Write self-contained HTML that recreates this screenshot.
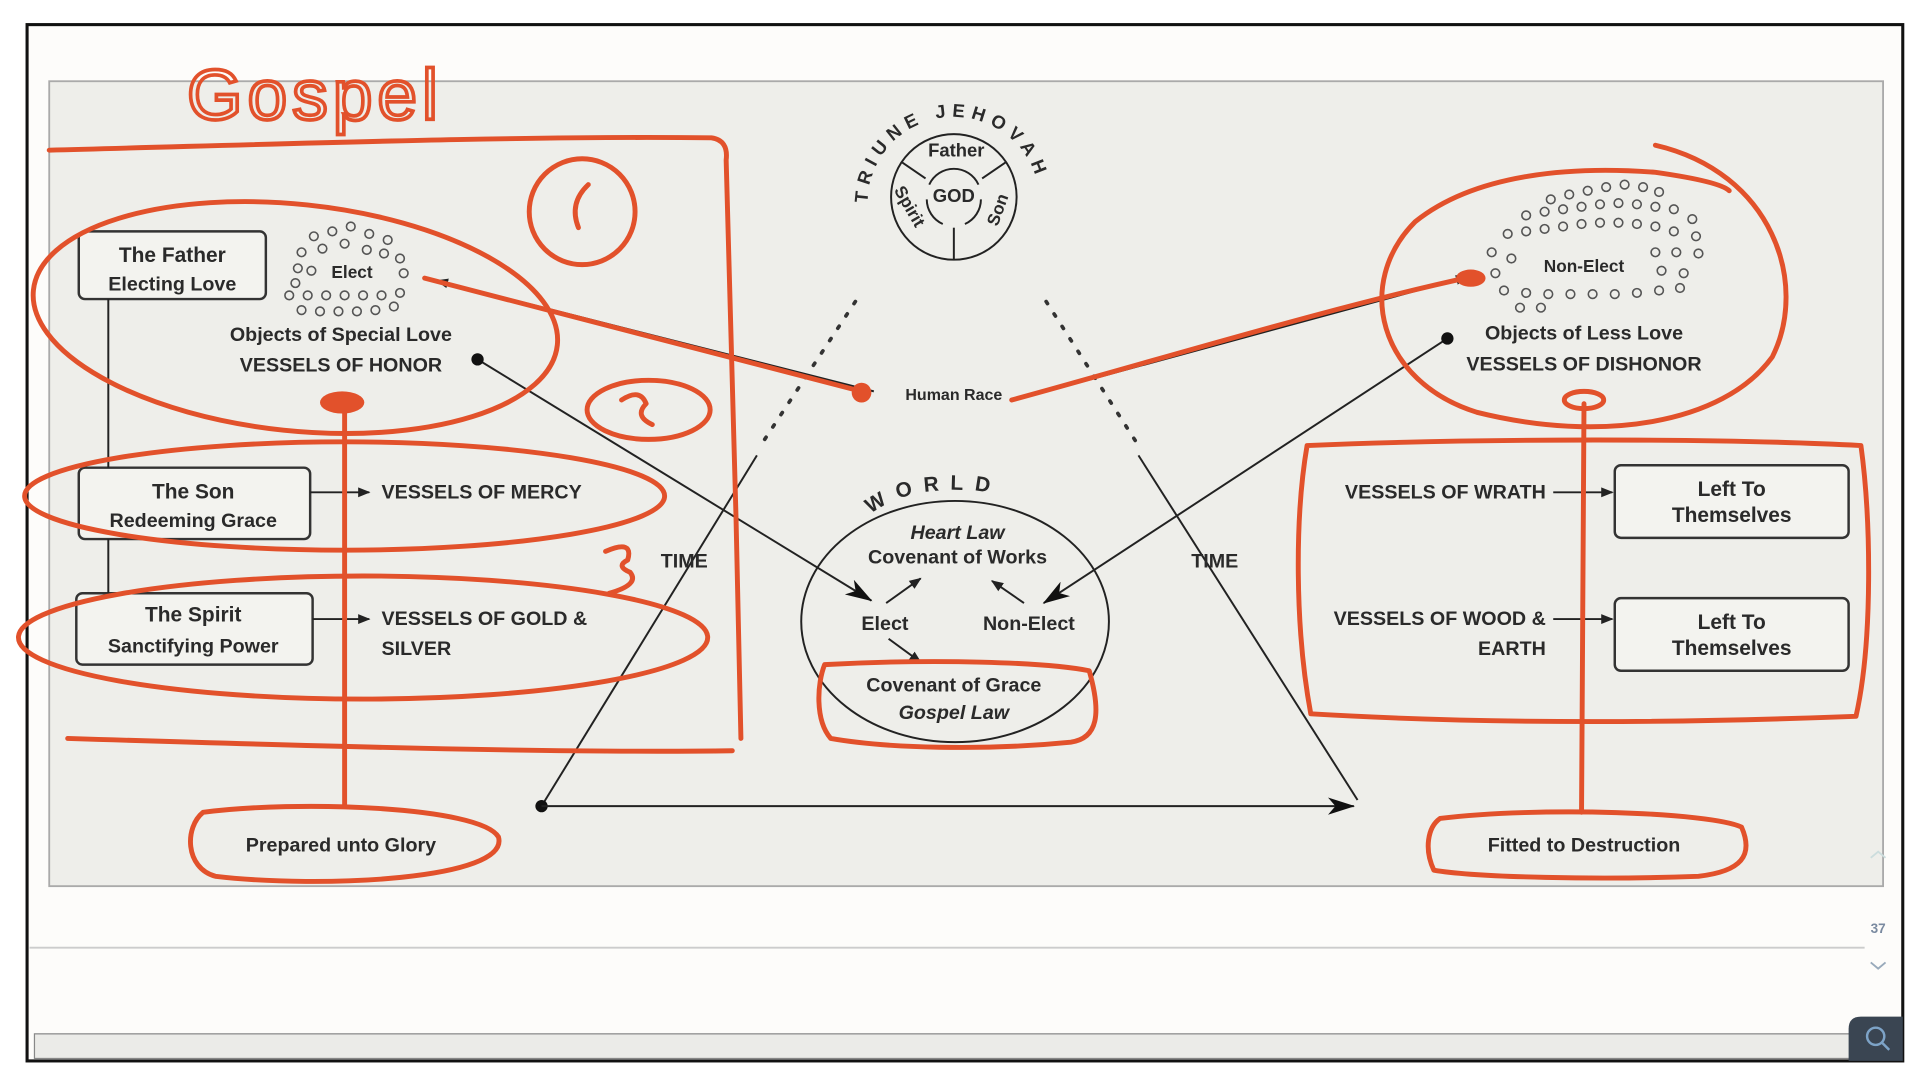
<!DOCTYPE html>
<html><head><meta charset="utf-8"><style>
html,body{margin:0;padding:0;background:#fff;width:1920px;height:1080px;overflow:hidden}
svg{display:block}
text{font-family:"Liberation Sans",sans-serif;fill:#2a2a2a}
.b{font-weight:bold;font-size:16px}
.r{fill:none;stroke:#e2512b;stroke-width:4;stroke-linecap:round;stroke-linejoin:round}
.k{fill:none;stroke:#222;stroke-width:1.6}
.bx{fill:#f3f3ef;stroke:#333;stroke-width:2}
.d{fill:none;stroke:#555;stroke-width:1.3}
</style></head><body>
<svg width="1920" height="1080" viewBox="0 0 1560 877.5" preserveAspectRatio="none">
<defs>
<marker id="a" markerWidth="10" markerHeight="10" refX="9" refY="5" orient="auto" markerUnits="userSpaceOnUse"><path d="M0,1 L10,5 L0,9 Z" fill="#222"/></marker>
<marker id="A" markerWidth="22" markerHeight="14" refX="21" refY="7" orient="auto" markerUnits="userSpaceOnUse"><path d="M0,0 L22,7 L0,14 L6,7 Z" fill="#111"/></marker>
<path id="arc1" d="M705,165 A70,70 0 0 1 845,165"/>
<path id="arc2" d="M705,428 A72,30 0 0 1 849,428"/>
</defs>
<rect x="0" y="0" width="1560" height="877.5" fill="#fff"/>
<rect x="22" y="20" width="1524" height="842" fill="#fdfcfa" stroke="#111" stroke-width="2.5"/>
<rect x="40" y="66" width="1490" height="654" fill="#eeeeea" stroke="#aaa" stroke-width="1.5"/>
<line x1="24" y1="770" x2="1515" y2="770" stroke="#ccc" stroke-width="1.5"/>
<rect x="28" y="840" width="1516" height="20" fill="#ebebe8" stroke="#888" stroke-width="1"/>
<path d="M1502,862 L1502,836 Q1502,826 1512,826 L1546,826 L1546,862 Z" fill="#3a4552"/>
<circle cx="1524" cy="842" r="7" fill="none" stroke="#7da3c7" stroke-width="2"/>
<line x1="1529" y1="847" x2="1535" y2="853" stroke="#7da3c7" stroke-width="2"/>
<text x="1526" y="758" text-anchor="middle" style="font-size:11px;fill:#7a8aa0;font-weight:bold">37</text>
<path d="M1520,782 L1526,787 L1532,782" fill="none" stroke="#9ab" stroke-width="1.5"/>
<path d="M1520,697 L1526,692 L1532,697" fill="none" stroke="#cdd" stroke-width="1.5"/>

<!-- God circle -->
<circle cx="775" cy="160" r="51" class="k" stroke-width="2"/>
<path d="M755,150 A22,22 0 0 1 795,150 M753,162 A22,22 0 0 0 766,182 M797,162 A22,22 0 0 1 784,182" class="k"/>
<line x1="733" y1="132" x2="752" y2="145" class="k" stroke-width="2"/>
<line x1="817" y1="132" x2="798" y2="145" class="k" stroke-width="2"/>
<line x1="775" y1="185" x2="775" y2="211" class="k" stroke-width="2"/>
<text x="777" y="127" text-anchor="middle" class="b" style="font-size:15px">Father</text>
<text x="775" y="164" text-anchor="middle" class="b" style="font-size:15px">GOD</text>
<text transform="translate(735,170) rotate(60)" text-anchor="middle" class="b" style="font-size:14px">Spirit</text>
<text transform="translate(815,172) rotate(-70)" text-anchor="middle" class="b" style="font-size:14px">Son</text>
<text class="b" style="font-size:15px;letter-spacing:5px"><textPath href="#arc1" startOffset="0%">TRIUNE JEHOVAH</textPath></text>

<!-- dotted & time lines -->
<line x1="695" y1="245" x2="618" y2="362" stroke="#333" stroke-width="3" stroke-dasharray="2,10" stroke-linecap="round"/>
<line x1="850" y1="245" x2="925" y2="362" stroke="#333" stroke-width="3" stroke-dasharray="2,10" stroke-linecap="round"/>
<line x1="615" y1="370" x2="440" y2="655" class="k"/>
<line x1="925" y1="370" x2="1103" y2="650" class="k"/>
<circle cx="440" cy="655" r="5" fill="#111"/>
<line x1="440" y1="655" x2="1100" y2="655" class="k" marker-end="url(#A)"/>
<text x="556" y="461" text-anchor="middle" class="b">TIME</text>
<text x="987" y="461" text-anchor="middle" class="b">TIME</text>

<!-- Human race -->
<text x="775" y="325" text-anchor="middle" class="b" style="font-size:13px">Human Race</text>
<line x1="710" y1="318" x2="355" y2="228" class="k" marker-end="url(#a)"/>
<line x1="850" y1="318" x2="1192" y2="225" class="k" marker-end="url(#a)"/>

<!-- World -->
<ellipse cx="776" cy="505" rx="125" ry="98" class="k" stroke-width="2"/>
<text class="b" style="font-size:17px;letter-spacing:9px"><textPath href="#arc2" startOffset="6%">WORLD</textPath></text>
<text x="778" y="438" text-anchor="middle" style="font-size:16px;font-style:italic;font-weight:bold">Heart Law</text>
<text x="778" y="458" text-anchor="middle" class="b">Covenant of Works</text>
<text x="719" y="512" text-anchor="middle" class="b">Elect</text>
<text x="836" y="512" text-anchor="middle" class="b">Non-Elect</text>
<line x1="720" y1="490" x2="748" y2="470" class="k" stroke-width="2" marker-end="url(#a)"/>
<line x1="832" y1="490" x2="806" y2="472" class="k" stroke-width="2" marker-end="url(#a)"/>
<line x1="722" y1="519" x2="748" y2="538" class="k" stroke-width="2" marker-end="url(#a)"/>
<text x="775" y="562" text-anchor="middle" class="b">Covenant of Grace</text>
<text x="775" y="584" text-anchor="middle" style="font-size:16px;font-style:italic;font-weight:bold">Gospel Law</text>
<line x1="388" y1="292" x2="708" y2="488" class="k" marker-end="url(#A)"/>
<line x1="1176" y1="275" x2="848" y2="490" class="k" marker-end="url(#A)"/>
<circle cx="388" cy="292" r="5" fill="#111"/>
<circle cx="1176" cy="275" r="5" fill="#111"/>

<!-- Left boxes -->
<rect x="64" y="188" width="152" height="55" rx="5" class="bx"/>
<text x="140" y="213" text-anchor="middle" class="b" style="font-size:17px">The Father</text>
<text x="140" y="236" text-anchor="middle" class="b">Electing Love</text>
<rect x="64" y="380" width="188" height="58" rx="5" class="bx"/>
<text x="157" y="405" text-anchor="middle" class="b" style="font-size:17px">The Son</text>
<text x="157" y="428" text-anchor="middle" class="b">Redeeming Grace</text>
<rect x="62" y="482" width="192" height="58" rx="5" class="bx"/>
<text x="157" y="505" text-anchor="middle" class="b" style="font-size:17px">The Spirit</text>
<text x="157" y="530" text-anchor="middle" class="b">Sanctifying Power</text>
<line x1="88" y1="243" x2="88" y2="380" class="k" stroke-width="2"/>
<line x1="88" y1="438" x2="88" y2="482" class="k" stroke-width="2"/>
<line x1="252" y1="400" x2="300" y2="400" class="k" marker-end="url(#a)"/>
<line x1="254" y1="503" x2="300" y2="503" class="k" marker-end="url(#a)"/>
<text x="310" y="405" class="b">VESSELS OF MERCY</text>
<text x="310" y="508" class="b">VESSELS OF GOLD &amp;</text>
<text x="310" y="532" class="b">SILVER</text>
<g class="d">
<circle cx="255" cy="192" r="3.5"/><circle cx="270" cy="188" r="3.5"/><circle cx="285" cy="184" r="3.5"/><circle cx="300" cy="190" r="3.5"/><circle cx="315" cy="195" r="3.5"/>
<circle cx="245" cy="205" r="3.5"/><circle cx="262" cy="202" r="3.5"/><circle cx="280" cy="198" r="3.5"/><circle cx="298" cy="203" r="3.5"/><circle cx="325" cy="210" r="3.5"/><circle cx="312" cy="206" r="3.5"/>
<circle cx="242" cy="218" r="3.5"/><circle cx="253" cy="220" r="3.5"/><circle cx="240" cy="230" r="3.5"/><circle cx="328" cy="222" r="3.5"/>
<circle cx="235" cy="240" r="3.5"/><circle cx="250" cy="240" r="3.5"/><circle cx="265" cy="240" r="3.5"/><circle cx="280" cy="240" r="3.5"/><circle cx="295" cy="240" r="3.5"/><circle cx="310" cy="240" r="3.5"/><circle cx="325" cy="238" r="3.5"/>
<circle cx="245" cy="252" r="3.5"/><circle cx="260" cy="253" r="3.5"/><circle cx="275" cy="253" r="3.5"/><circle cx="290" cy="253" r="3.5"/><circle cx="305" cy="252" r="3.5"/><circle cx="320" cy="249" r="3.5"/>
</g>
<text x="286" y="226" text-anchor="middle" class="b" style="font-size:14px">Elect</text>
<text x="277" y="277" text-anchor="middle" class="b">Objects of Special Love</text>
<text x="277" y="302" text-anchor="middle" class="b">VESSELS OF HONOR</text>
<text x="277" y="692" text-anchor="middle" class="b">Prepared unto Glory</text>

<!-- Right -->
<g class="d">
<circle cx="1260" cy="162" r="3.5"/><circle cx="1275" cy="158" r="3.5"/><circle cx="1290" cy="155" r="3.5"/><circle cx="1305" cy="152" r="3.5"/><circle cx="1320" cy="150" r="3.5"/><circle cx="1335" cy="152" r="3.5"/><circle cx="1348" cy="156" r="3.5"/>
<circle cx="1240" cy="175" r="3.5"/><circle cx="1255" cy="172" r="3.5"/><circle cx="1270" cy="170" r="3.5"/><circle cx="1285" cy="168" r="3.5"/><circle cx="1300" cy="166" r="3.5"/><circle cx="1315" cy="165" r="3.5"/><circle cx="1330" cy="166" r="3.5"/><circle cx="1345" cy="168" r="3.5"/><circle cx="1360" cy="170" r="3.5"/><circle cx="1375" cy="178" r="3.5"/>
<circle cx="1225" cy="190" r="3.5"/><circle cx="1240" cy="188" r="3.5"/><circle cx="1255" cy="186" r="3.5"/><circle cx="1270" cy="184" r="3.5"/><circle cx="1285" cy="182" r="3.5"/><circle cx="1300" cy="181" r="3.5"/><circle cx="1315" cy="181" r="3.5"/><circle cx="1330" cy="182" r="3.5"/><circle cx="1345" cy="184" r="3.5"/><circle cx="1360" cy="188" r="3.5"/><circle cx="1378" cy="192" r="3.5"/>
<circle cx="1212" cy="205" r="3.5"/><circle cx="1228" cy="210" r="3.5"/><circle cx="1345" cy="205" r="3.5"/><circle cx="1362" cy="205" r="3.5"/><circle cx="1380" cy="206" r="3.5"/>
<circle cx="1215" cy="222" r="3.5"/><circle cx="1350" cy="220" r="3.5"/><circle cx="1368" cy="222" r="3.5"/>
<circle cx="1222" cy="236" r="3.5"/><circle cx="1240" cy="238" r="3.5"/><circle cx="1258" cy="239" r="3.5"/><circle cx="1276" cy="239" r="3.5"/><circle cx="1294" cy="239" r="3.5"/><circle cx="1312" cy="239" r="3.5"/><circle cx="1330" cy="238" r="3.5"/><circle cx="1348" cy="236" r="3.5"/><circle cx="1365" cy="234" r="3.5"/>
<circle cx="1235" cy="250" r="3.5"/><circle cx="1252" cy="250" r="3.5"/>
</g>
<text x="1287" y="221" text-anchor="middle" class="b" style="font-size:14px">Non-Elect</text>
<text x="1287" y="276" text-anchor="middle" class="b">Objects of Less Love</text>
<text x="1287" y="301" text-anchor="middle" class="b">VESSELS OF DISHONOR</text>
<text x="1256" y="405" text-anchor="end" class="b">VESSELS OF WRATH</text>
<text x="1256" y="508" text-anchor="end" class="b">VESSELS OF WOOD &amp;</text>
<text x="1256" y="532" text-anchor="end" class="b">EARTH</text>
<line x1="1262" y1="400" x2="1310" y2="400" class="k" marker-end="url(#a)"/>
<line x1="1262" y1="503" x2="1310" y2="503" class="k" marker-end="url(#a)"/>
<rect x="1312" y="378" width="190" height="59" rx="5" class="bx"/>
<text x="1407" y="403" text-anchor="middle" class="b" style="font-size:17px">Left To</text>
<text x="1407" y="424" text-anchor="middle" class="b" style="font-size:17px">Themselves</text>
<rect x="1312" y="486" width="190" height="59" rx="5" class="bx"/>
<text x="1407" y="511" text-anchor="middle" class="b" style="font-size:17px">Left To</text>
<text x="1407" y="532" text-anchor="middle" class="b" style="font-size:17px">Themselves</text>
<text x="1287" y="692" text-anchor="middle" class="b">Fitted to Destruction</text>

<!-- Red annotations -->
<text x="152" y="97" style="font-family:'Liberation Sans',sans-serif;font-size:58px;letter-spacing:4px;fill:none;stroke:#e2512b;stroke-width:3">Gospel</text>
<path class="r" d="M40,122 C200,118 420,110 578,112 Q592,114 590,130 L598,420 L602,600 M55,600 C250,606 450,612 595,610"/>
<ellipse cx="240" cy="258" rx="214" ry="92" class="r" transform="rotate(6 240 258)"/>
<circle cx="473" cy="172" r="43" class="r"/>
<path class="r" d="M478,150 Q462,165 470,185"/>
<ellipse cx="527" cy="333" rx="50" ry="24" class="r"/>
<path class="r" d="M505,325 Q520,315 525,328 Q515,338 530,345"/>
<path class="r" d="M492,448 Q515,438 510,455 Q500,460 512,465 Q520,475 495,482"/>
<ellipse cx="280" cy="403" rx="260" ry="44" class="r"/>
<ellipse cx="295" cy="518" rx="280" ry="50" class="r"/>
<path class="r" d="M280,328 L280,655" stroke-width="5"/>
<ellipse cx="278" cy="327" rx="18" ry="9" fill="#e2512b"/>
<path class="r" d="M165,660 C240,650 390,655 405,680 C415,715 260,722 175,712 C150,705 150,672 165,660 Z"/>
<path class="r" d="M670,540 C760,535 850,538 885,545 C895,580 892,600 870,603 C800,610 720,608 675,600 C662,585 664,555 670,540 Z"/>
<path class="r" d="M345,226 L700,318" stroke-width="5"/>
<circle cx="700" cy="319" r="8" fill="#e2512b"/>
<path class="r" d="M822,325 C950,290 1080,250 1195,225" stroke-width="5"/>
<ellipse cx="1195" cy="226" rx="12" ry="7" fill="#e2512b"/>
<path class="r" d="M1345,118 C1440,140 1470,230 1440,290 C1400,345 1300,360 1200,335 C1120,310 1100,230 1150,180 C1200,140 1280,135 1345,140 C1380,145 1400,150 1405,155"/>
<path class="r" d="M1062,362 C1200,356 1400,356 1512,362 C1520,420 1522,520 1508,582 C1350,588 1200,588 1065,580 C1052,510 1052,420 1062,362 Z"/>
<path class="r" d="M1287,328 L1285,660" stroke-width="5"/>
<ellipse cx="1287" cy="325" rx="16" ry="7" fill="none" stroke="#e2512b" stroke-width="4"/>
<path class="r" d="M1170,665 C1250,655 1390,660 1415,672 C1425,695 1415,708 1380,712 C1300,715 1200,713 1165,707 C1157,690 1160,672 1170,665 Z"/>
</svg>
</body></html>
